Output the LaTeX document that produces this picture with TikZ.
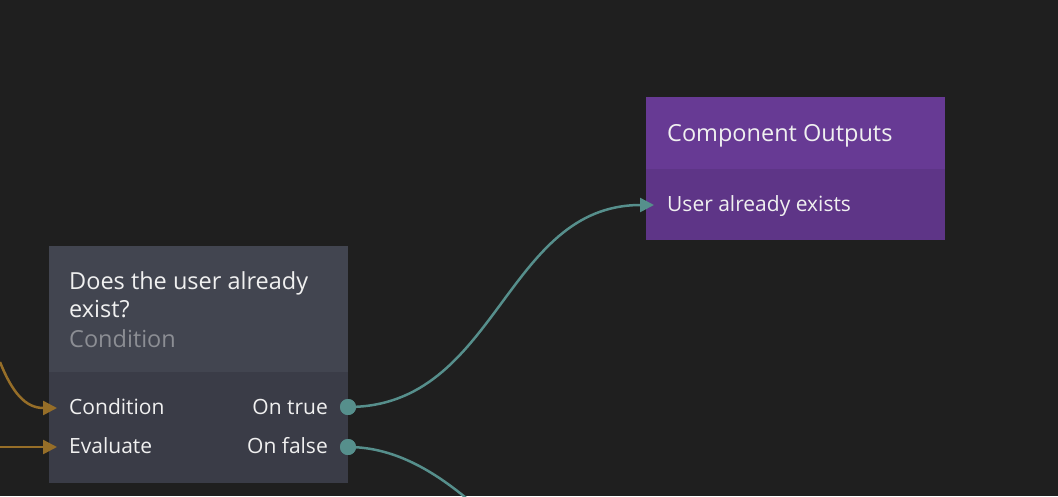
\documentclass[tikz,border=0pt]{standalone}
\usepackage{fontspec}
\setmainfont{Open Sans}
\usetikzlibrary{arrows.meta}
\usetikzlibrary{positioning}
\definecolor{bgdark}{HTML}{1F1F1F}
\definecolor{greyhead}{HTML}{424550}
\definecolor{greybody}{HTML}{3A3C47}
\definecolor{purphead}{HTML}{673A94}
\definecolor{purpbody}{HTML}{5E3587}
\definecolor{wireteal}{HTML}{568F8C}
\definecolor{wireamber}{HTML}{966E28}
\definecolor{ink}{HTML}{F0F0F0}
\definecolor{inkdim}{HTML}{8C8E94}

\begin{document}
\begin{tikzpicture}[x=1pt,y=-1pt,
panel/.style={rectangle,anchor=north west,minimum width=299pt,inner sep=0pt,outer sep=0pt,draw=none},
lbl/.style={text=ink,font=\fontsize{21}{28}\selectfont,inner sep=0pt},
ttl/.style={text=ink,font=\fontsize{23.5}{28}\selectfont,inner sep=0pt},
port/.style={circle,fill=wireteal,minimum size=16pt,inner sep=0pt}]
\fill[bgdark] (0,0) rectangle (1058,496);
\useasboundingbox (0,0) rectangle (1058,496);
\clip (0,0) rectangle (1058,496);
% condition node
\node[panel,fill=greyhead,minimum height=126pt](cndhead) at (49,246){};
\node[panel,fill=greybody,minimum height=111pt](cndbody) at (49,372){};
\node[ttl,anchor=north west,align=left](cndtitle) at (69,271){Does the user already\\exist?};
\node[ttl,anchor=base west,text=inkdim](cndtype) at (69,347){Condition};
\node[lbl,anchor=base west](incond) at (69,414){Condition};
\node[lbl,anchor=base west](ineval) at (69,453){Evaluate};
\node[lbl,anchor=base east](outtrue) at (328,414){On true};
\node[lbl,anchor=base east](outfalse) at (328,453){On false};
\node[port](ptrue) at (348,407){};
\node[port](pfalse) at (348,447){};
% component outputs
\node[panel,fill=purphead,minimum height=72pt](outhead) at (646,97){};
\node[panel,fill=purpbody,minimum height=71pt](outbody) at (646,169){};
\node[ttl,anchor=base west](outtitle) at (667,141){Component Outputs};
\node[lbl,anchor=base west](outexists) at (667,211){User already exists};
\coordinate(exin) at (654,205);
\coordinate(condin) at (57,408);
\coordinate(evalin) at (57,447);
\coordinate(condsrc) at (0,362);
\coordinate(evalsrc) at (0,447);
\coordinate(falsedst) at (740,700);
\begin{scope}[line width=2.5pt]
 \draw[wireteal,-{Triangle[length=14pt,width=14pt]}] (ptrue.center) .. controls (498,407) and (504,205) .. (exin);
 \draw[wireteal] (pfalse.center) .. controls (498,447) and (590,700) .. (falsedst);
 \draw[wireamber,-{Triangle[length=14pt,width=14pt]}] (condsrc) .. controls (12,392) and (25,408) .. (condin);
 \draw[wireamber,-{Triangle[length=14pt,width=14pt]}] (evalsrc)--(evalin);
\end{scope}
\node[port] at (ptrue){};
\node[port] at (pfalse){};
\end{tikzpicture}
\end{document}
